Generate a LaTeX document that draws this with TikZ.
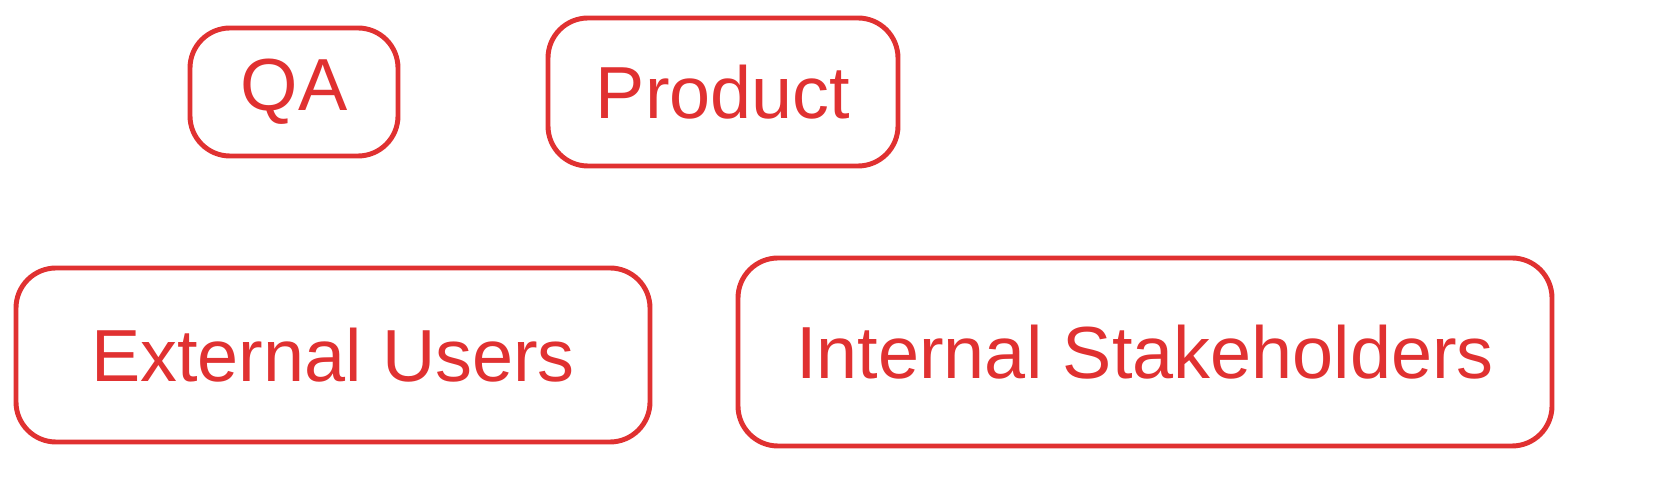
\documentclass[tikz,border=0pt]{standalone}
\usepackage{fontspec}
\setmainfont{Liberation Sans}
\definecolor{exred}{HTML}{E03131}

\begin{document}
\begin{tikzpicture}[box/.style={draw=exred,line width=1.4pt,rounded corners=0.4cm,text=exred,font=\fontsize{21}{24}\selectfont,inner sep=0pt}]
            \useasboundingbox (0,0) rectangle (16.71,4.94);
            \node[box,minimum width=2.08cm,minimum height=1.28cm] (qa) at (2.94,4.02) {QA};
            \node[box,minimum width=3.50cm,minimum height=1.48cm] (product) at (7.23,4.02) {Product};
            \node[box,minimum width=6.34cm,minimum height=1.74cm] (external) at (3.33,1.39) {External Users};
            \node[box,minimum width=8.14cm,minimum height=1.88cm] (internal) at (11.45,1.42) {Internal Stakeholders};
        \end{tikzpicture}
\end{document}
